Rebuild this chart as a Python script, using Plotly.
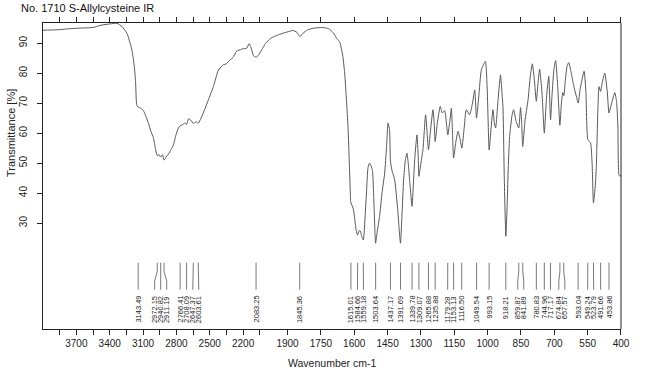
import plotly.graph_objects as go

title_text = "No. 1710 S-Allylcysteine IR"
x_title = "Wavenumber cm-1"
y_title = "Transmittance [%]"

wavenumber = [
    4000, 3900, 3847, 3760, 3667, 3550, 3487, 3397, 3334, 3289, 3244, 3202, 3181, 3167, 3157,
    3143, 3118, 3097, 3073, 3052, 3028, 3007, 2987, 2972, 2956, 2941, 2925, 2911, 2893, 2872,
    2848, 2827, 2803, 2782, 2766, 2745, 2722, 2708, 2690, 2670, 2647, 2623, 2603, 2578, 2542,
    2512, 2467, 2422, 2377, 2353, 2317, 2290, 2260, 2212, 2167, 2146, 2128, 2107, 2083, 2060,
    2032, 2000, 1978, 1960, 1940, 1920, 1897, 1875, 1858, 1845, 1830, 1810, 1780, 1745, 1715,
    1695, 1678, 1665, 1652, 1643, 1635, 1628, 1622, 1618, 1615, 1605, 1597, 1591, 1585, 1578,
    1572, 1566, 1559, 1552, 1545, 1538, 1531, 1524, 1518, 1511, 1504, 1497, 1486, 1475, 1463,
    1455, 1448, 1441, 1437, 1430, 1418, 1405, 1392, 1385, 1378, 1370, 1363, 1357, 1351, 1340,
    1334, 1328, 1318, 1312, 1309, 1300, 1291, 1279, 1272, 1266, 1258, 1246, 1240, 1236, 1225,
    1213, 1204, 1193, 1185, 1179, 1170, 1163, 1158, 1153, 1143, 1133, 1124, 1116, 1105, 1096,
    1081, 1068, 1058, 1050, 1040, 1028, 1010, 1002, 993, 984, 976, 970, 964, 952, 942,
    935, 931, 925, 918, 912, 908, 901, 890, 883, 872, 860, 852, 847, 842, 832,
    818, 808, 799, 790, 781, 773, 766, 755, 745, 735, 725, 717, 710, 702, 694,
    685, 675, 668, 662, 657, 650, 642, 635, 625, 612, 600, 593, 583, 566, 558,
    549, 537, 530, 524, 516, 511, 504, 499, 492, 484, 473, 462, 454, 442, 428,
    420, 414, 409, 403, 400,
]
transmittance = [
    94.3, 94.4, 94.5, 94.8, 95.0, 95.2, 95.9, 96.4, 96.6, 95.5, 93.2, 88.0, 83.0, 77.0, 69.5,
    68.6, 68.3, 67.5, 65.5, 63.3, 60.5, 58.5, 54.5, 52.5, 52.8, 52.0, 52.8, 51.0, 52.0, 53.0,
    54.5, 56.0, 59.5, 61.7, 62.4, 62.8, 63.4, 62.9, 64.8, 64.3, 63.2, 63.8, 63.3, 65.0, 68.2,
    71.1, 75.5, 81.0, 82.8, 83.0, 84.4, 85.2, 87.2, 88.0, 88.3, 89.8, 88.5, 85.8, 85.3, 86.0,
    87.8, 89.8, 91.5, 92.2, 92.8, 93.3, 93.8, 94.2, 93.6, 92.2, 93.3, 94.4, 95.0, 95.2, 94.8,
    93.5, 91.5, 90.3, 86.0, 80.0, 71.0, 62.0, 50.0, 41.0, 36.8, 35.0, 31.0, 27.5, 26.0, 27.5,
    27.3, 25.5, 24.4, 31.0, 40.0, 48.5, 50.0, 49.0, 47.5, 36.0, 23.3, 27.0, 32.2, 40.0, 46.7,
    55.0, 63.3, 61.0, 50.5, 47.5, 44.4, 35.0, 23.3, 33.0, 44.4, 51.0, 53.3, 50.0, 44.4, 35.6,
    43.0, 51.1, 59.4, 52.0, 45.6, 50.0, 54.4, 66.1, 60.0, 54.4, 60.0, 67.8, 63.0, 57.2, 64.0,
    68.9, 66.7, 67.5, 63.0, 59.4, 64.0, 68.3, 60.0, 51.7, 57.0, 60.6, 58.0, 55.0, 62.0, 67.8,
    66.1, 70.0, 74.4, 65.0, 72.0, 81.1, 83.9, 75.0, 54.4, 62.0, 67.8, 63.5, 61.7, 72.0, 79.4,
    73.0, 68.9, 45.0, 25.6, 36.0, 46.7, 58.9, 66.0, 67.8, 64.0, 61.7, 68.5, 64.0, 55.5, 64.0,
    71.1, 79.0, 83.1, 78.0, 70.6, 77.0, 81.3, 73.0, 60.0, 72.0, 78.9, 64.4, 73.0, 81.0, 84.2,
    76.0, 62.6, 70.0, 73.5, 72.5, 78.0, 82.5, 83.5, 80.5, 75.5, 72.0, 70.0, 75.0, 80.6, 74.0,
    57.8, 56.7, 50.0, 36.7, 42.0, 48.9, 68.0, 75.5, 73.9, 77.0, 80.0, 74.0, 66.7, 70.0, 73.5,
    70.5, 62.0, 46.0, 45.6, 46.0,
]

peak_wavenumbers = [
    3143.49, 2972.15, 2940.82, 2911.19, 2766.41, 2708.09, 2647.37, 2603.61, 2083.25, 1845.36,
    1615.01, 1584.66, 1559.18, 1503.64, 1437.17, 1391.69, 1339.78, 1309.07, 1265.88, 1235.88,
    1179.28, 1153.13, 1116.50, 1049.54, 993.15, 918.21, 859.87, 841.89, 780.83, 744.96,
    717.17, 674.84, 657.57, 593.04, 549.24, 523.79, 491.66, 453.86,
]
peak_labels = [f"{w:.2f}" for w in peak_wavenumbers]

upper_ticks = [3850, 3700, 3550, 3400, 3250, 3100, 2950, 2800, 2650, 2500, 2350, 2200, 2050]
upper_tick_labels = ["", "3700", "", "3400", "", "3100", "", "2800", "", "2500", "", "2200", ""]
lower_ticks = [1900, 1750, 1600, 1450, 1300, 1150, 1000, 850, 700, 550, 400]
lower_tick_labels = [str(v) for v in lower_ticks]
y_ticks = [30, 40, 50, 60, 70, 80, 90]

# ---- geometry of the broken wavenumber axis (scale halves below 2000) ----
W, H = 650, 373
M_L, M_R, M_T, M_B = 43, 29, 23, 44
PLOT_W = W - M_L - M_R
PLOT_H = H - M_T - M_B
SPLIT = 5 / 13
Y_RANGE = [-5.3, 96.7]


def wn_to_px(w):
    if w >= 2000:
        return (4000 - w) / 2000 * SPLIT * PLOT_W
    return (SPLIT + (2000 - w) / 1600 * (1 - SPLIT)) * PLOT_W


def px_to_wn(p):
    f = p / PLOT_W
    if f <= SPLIT:
        return 4000 - f / SPLIT * 2000
    return 2000 - (f - SPLIT) / (1 - SPLIT) * 1600


def spread(xs, d):
    p = list(xs)
    for _ in range(400):
        for i in range(1, len(p)):
            gap = p[i] - p[i - 1]
            if gap < d:
                s = (d - gap) / 2
                p[i - 1] -= s
                p[i] += s
    return p


peak_px = [wn_to_px(w) for w in peak_wavenumbers]
label_px = spread(peak_px, 6.0)
label_wn = [px_to_wn(p) for p in label_px]

CONN_TOP, CONN_B1, CONN_B2, CONN_BOT, LABEL_TOP = 16.8, 13.8, 10.8, 7.8, 6.4

fig = go.Figure()
line_style = dict(color="#595959", width=1, shape="spline", smoothing=0.5)
for xa in ("x", "x2"):
    fig.add_trace(go.Scatter(x=wavenumber, y=transmittance, mode="lines", line=line_style,
                             xaxis=xa, yaxis="y", showlegend=False, hoverinfo="skip"))

conn = {"x": ([], []), "x2": ([], [])}
annotations = []
for w, lw, txt in zip(peak_wavenumbers, label_wn, peak_labels):
    xa = "x" if w >= 2000 else "x2"
    cx, cy = conn[xa]
    cx += [w, w, lw, lw, None]
    cy += [CONN_TOP, CONN_B1, CONN_B2, CONN_BOT, None]
    annotations.append(dict(x=lw, y=LABEL_TOP, xref=xa, yref="y", text=txt, textangle=-90,
                            showarrow=False, xanchor="center", yanchor="top",
                            font=dict(size=7.5, color="#222", family="Liberation Sans, Arial")))
for xa, (cx, cy) in conn.items():
    fig.add_trace(go.Scatter(x=cx, y=cy, mode="lines", line=dict(color="#555", width=0.8),
                             xaxis=xa, yaxis="y", showlegend=False, hoverinfo="skip"))

annotations.append(dict(x=(11 - M_L) / PLOT_W, y=(H - M_B - 133) / PLOT_H, xref="paper", yref="paper",
                        text=y_title, textangle=-90, showarrow=False, xanchor="center", yanchor="middle",
                        font=dict(size=11, color="#222")))
annotations.append(dict(x=0.5, y=(H - M_B - 363) / PLOT_H, xref="paper", yref="paper",
                        text=x_title, showarrow=False, xanchor="center", yanchor="middle",
                        font=dict(size=10.5, color="#222")))

axis_common = dict(ticks="outside", ticklen=5, tickcolor="#222", showline=True, linecolor="#222",
                   linewidth=1, mirror="ticks", showgrid=False, zeroline=False, automargin=False,
                   tickfont=dict(size=10, color="#222"), anchor="y")

fig.update_layout(
    width=W, height=H,
    margin=dict(l=M_L, r=M_R, t=M_T, b=M_B, autoexpand=False),
    paper_bgcolor="white", plot_bgcolor="white",
    font=dict(family="Liberation Sans, Arial, sans-serif", color="#222"),
    title=dict(text=title_text, x=21 / W, xanchor="left", xref="container",
               y=1 - 8 / H, yanchor="middle", yref="container",
               font=dict(size=11, color="#111")),
    xaxis=dict(domain=[0, SPLIT], range=[4000, 2000], tickvals=upper_ticks,
               ticktext=upper_tick_labels, **axis_common),
    xaxis2=dict(domain=[SPLIT, 1], range=[2000, 400], tickvals=lower_ticks,
                ticktext=lower_tick_labels, **axis_common),
    yaxis=dict(domain=[0, 1], range=Y_RANGE, tickvals=y_ticks, tickangle=-90,
               ticks="outside", ticklen=5, tickcolor="#222", showline=True, linecolor="#222",
               linewidth=1, showgrid=False, zeroline=False, anchor="x", automargin=False,
               tickfont=dict(size=10, color="#222"), ticklabelstandoff=6),
    annotations=annotations,
    shapes=[dict(type="line", xref="paper", yref="paper", x0=1, x1=1, y0=0, y1=1,
                 line=dict(color="#222", width=1))],
    showlegend=False,
)

fig.write_html("out.html", config={"displayModeBar": False},
               post_script="document.body.style.margin='0';")
